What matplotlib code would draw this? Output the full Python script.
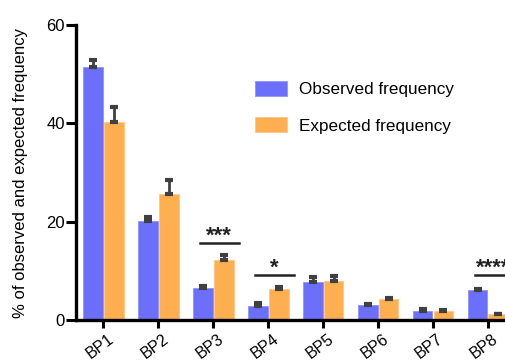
import matplotlib.pyplot as plt
import matplotlib.transforms as mtransforms
import numpy as np

plt.rcParams['font.family'] = ['Liberation Sans', 'DejaVu Sans']

categories = ['BP1', 'BP2', 'BP3', 'BP4', 'BP5', 'BP6', 'BP7', 'BP8']
observed = [51.5, 20.1, 6.5, 2.9, 7.8, 3.0, 1.9, 6.1]
observed_err = [1.3, 0.9, 0.4, 0.5, 1.0, 0.3, 0.4, 0.2]
expected = [40.2, 25.7, 12.3, 6.4, 7.9, 4.2, 1.9, 1.2]
expected_err = [3.2, 2.7, 1.0, 0.4, 1.0, 0.3, 0.1, 0.1]

# significance marks: (category index, line height, stars)
sig_marks = [(2, 15.7, '***'), (3, 9.2, '*'), (7, 9.2, '****')]

blue = '#6B6FFA'
orange = '#FFAE50'

fig = plt.figure(figsize=(5.05, 3.61), dpi=100)
# axes runs past the right edge, like the cropped original
ax = fig.add_axes([76 / 505, 41 / 361, 439.4 / 505, 295 / 361])

x = np.arange(len(categories))
w = 0.36
err_kw = dict(ecolor='#404040', elinewidth=2.0, capsize=2.8, capthick=3)
ax.bar(x - 0.19, observed, w, color=blue, edgecolor='#8F93FB', linewidth=0.6,
       yerr=[np.zeros(len(x)), observed_err], error_kw=err_kw, label='Observed frequency')
ax.bar(x + 0.19, expected, w, color=orange, edgecolor='#FFC585', linewidth=0.6,
       yerr=[np.zeros(len(x)), expected_err], error_kw=err_kw, label='Expected frequency')

for i, h, stars in sig_marks:
    ax.plot([i - 0.24, i + 0.47], [h, h], color='#222222', lw=1.8, clip_on=False)
    ax.text(i + 0.105, h + 0.2, stars, ha='center', va='baseline', fontsize=16,
            fontweight='bold', color='#222222')

ax.set_xlim(-0.5, 7.5)
ax.set_ylim(0, 60)
ax.set_yticks([0, 20, 40, 60])
ax.set_xticks(x)
ax.set_xticklabels(categories, rotation=37, ha='right', rotation_mode='anchor')
ax.tick_params(axis='both', width=2.2, labelsize=12)
ax.tick_params(axis='y', length=7, pad=1)
ax.tick_params(axis='x', length=5.5, pad=2.5, labelsize=11.5)

shift = mtransforms.ScaledTranslation(4 / 100, 0, fig.dpi_scale_trans)
for lab in ax.get_xticklabels():
    lab.set_transform(lab.get_transform() + shift)

for s in ['top', 'right']:
    ax.spines[s].set_visible(False)
for s in ['left', 'bottom']:
    ax.spines[s].set_linewidth(2.4)

ax.set_ylabel('% of observed and expected frequency', fontsize=12)
ax.yaxis.set_label_coords(-48 / 439.4, 0.5)

ax.legend(loc='upper left', bbox_to_anchor=(255 / 505, 1 - 81 / 361),
          bbox_transform=fig.transFigure, frameon=False, fontsize=12.3,
          borderpad=0, borderaxespad=0,
          handlelength=1.9, handleheight=1.0, labelspacing=1.15, handletextpad=0.7)

fig.savefig('out.png', dpi=100)
